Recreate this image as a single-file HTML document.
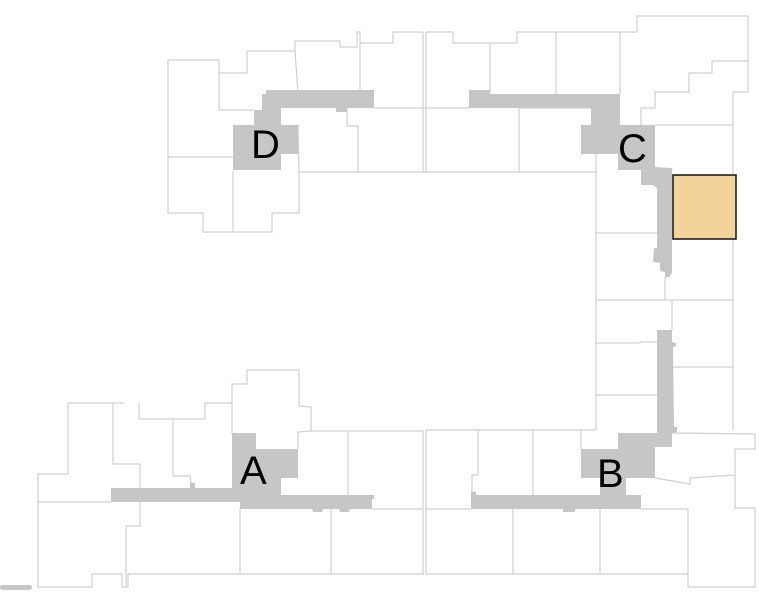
<!DOCTYPE html>
<html><head><meta charset="utf-8"><style>
html,body{margin:0;padding:0;background:#fff;}
svg{display:block;}
text{font-family:"Liberation Sans",Arial,sans-serif;font-size:40px;fill:#000;}
</style></head><body>
<svg width="759" height="596" viewBox="0 0 759 596" xmlns="http://www.w3.org/2000/svg">
<g fill="none" stroke="#d0d0d0" stroke-width="1.2">
<polyline points="254,110 219,110 219,60 168,60 168,213 203,213 203,232 272,232 272,213 299,213 299,172"/>
<line x1="168" y1="157" x2="233" y2="157"/>
<line x1="233" y1="170" x2="233" y2="232"/>
<polyline points="219,73 247,73 247,51 295,51 295,41 340,41 340,47 357,47 357,32 360,32 360,90"/>
<polyline points="360,43 393,43 393,32 423,32"/>
<line x1="295" y1="51" x2="298" y2="93"/>
<line x1="298" y1="125" x2="299" y2="172"/>
<line x1="299" y1="172" x2="597" y2="172"/>
<polyline points="347,108 347,126 358,126 358,172"/>
<line x1="374" y1="108" x2="469" y2="108"/>
<line x1="423" y1="32" x2="423" y2="172"/><line x1="426" y1="32" x2="426" y2="172"/>
<polyline points="426,32 453,32 453,43 517,43 517,32 637,32 637,16 748,16 748,92 733,92 733,430"/>
<line x1="490" y1="43" x2="490" y2="93"/>
<line x1="556" y1="32" x2="556" y2="94"/>
<line x1="620" y1="32" x2="620" y2="94"/>
<polyline points="748,61 712,61 712,73 689,73 689,92 655,92 655,108 641,108 641,125"/>
<line x1="655" y1="125" x2="733" y2="125"/>
<line x1="519" y1="108" x2="519" y2="172"/>
<line x1="591" y1="108" x2="519" y2="108"/>
<line x1="596" y1="154" x2="596" y2="430"/>
<line x1="596" y1="233" x2="657" y2="233"/>
<line x1="665" y1="277" x2="665" y2="300"/>
<line x1="596" y1="300" x2="733" y2="300"/>
<line x1="672" y1="300" x2="672" y2="330"/>
<polyline points="596,343 640,343 640,342 657,342"/>
<line x1="596" y1="395" x2="657" y2="395"/>
<line x1="672" y1="367" x2="733" y2="367"/>
<line x1="426" y1="430" x2="596" y2="430"/>
<line x1="423" y1="430" x2="423" y2="575"/><line x1="426" y1="430" x2="426" y2="575"/>
<line x1="581" y1="430" x2="581" y2="449"/>
<polyline points="478,430 478,475 472,475 472,491"/>
<line x1="533" y1="430" x2="533" y2="495"/>
<polyline points="672,433 755,434 755,449 735,449 735,475 690,478 690,484 655,478"/>
<polyline points="735,475 735,508 755,508 755,587 688,587 688,509"/>
<line x1="426" y1="509" x2="471" y2="509"/>
<line x1="641" y1="509" x2="688" y2="509"/>
<line x1="513" y1="509" x2="513" y2="574"/>
<line x1="600" y1="509" x2="600" y2="574"/>
<line x1="426" y1="574" x2="688" y2="574"/>
<polyline points="232,433 232,384 247,384 247,370 299,370 299,406 311,407 311,431 298,432 298,449"/>
<line x1="311" y1="431" x2="423" y2="431"/>
<line x1="348" y1="431" x2="348" y2="495"/>
<polyline points="68,403 68,474 38,474 38,587 92,587 92,574 122,574 122,587 128,587 128,574 423,574"/>
<line x1="68" y1="403" x2="124" y2="403"/>
<polyline points="113,403 113,464 140,464 140,526 126,526 126,587"/>
<polyline points="139,403 139,419 205,419 205,403 232,403"/>
<polyline points="173,419 173,476 190,476 191,483"/>
<line x1="38" y1="502" x2="111" y2="502"/>
<line x1="240" y1="509" x2="240" y2="574"/>
<line x1="331" y1="509" x2="331" y2="574"/>
<line x1="372" y1="509" x2="423" y2="509"/>
</g>
<g fill="#c6c6c6" stroke="none">
<path d="M266,94 L266,90 L355,90 L355,90 L374,90 L374,108 L347,108 L347,112 L336,112 L336,108 L281,108 L281,125 L298,125 L298,154 L281,154 L281,170 L233,170 L233,125 L254,125 L254,110 L262,110 L262,94 Z"/>
<path d="M469,90 L490,90 L490,94 L620,94 L620,125 L655,125 L655,167 L672,168 L672,273 L669,277 L665,277 L665,272 L660,271 L660,263 L653,262 L654,248 L657,248 L657,188 L653,185 L641,185 L641,170 L618,170 L618,154 L581,154 L581,125 L591,125 L591,108 L469,108 Z"/>
<path d="M657,330 L672,330 L672,342 L676,343 L676,346 L673,347 L674,427 L677,427 L677,432 L672,433 L672,447 L655,447 L655,478 L626,478 L626,495 L641,495 L641,509 L575,509 L575,512 L563,512 L563,509 L471,509 L471,491 L476,492 L476,495 L600,495 L600,478 L581,478 L581,449 L618,449 L618,433 L657,433 Z"/>
<path d="M111,488 L190,488 L190,483 L195,483 L195,488 L232,488 L232,433 L256,433 L256,449 L298,449 L298,478 L281,478 L281,495 L374,495 L374,499 L372,499 L372,509 L350,509 L349,512 L340,512 L339,509 L323,509 L322,512 L313,512 L312,509 L240,509 L240,502 L111,502 Z"/>
<rect x="0" y="585" width="32" height="5" rx="2.5"/>
</g>
<rect x="673" y="175" width="63" height="64" fill="#f3d39c" stroke="#111" stroke-width="1.5"/>
<text x="251" y="158">D</text>
<text x="618" y="162">C</text>
<text x="240" y="484">A</text>
<text x="597" y="487">B</text>
</svg>
</body></html>
